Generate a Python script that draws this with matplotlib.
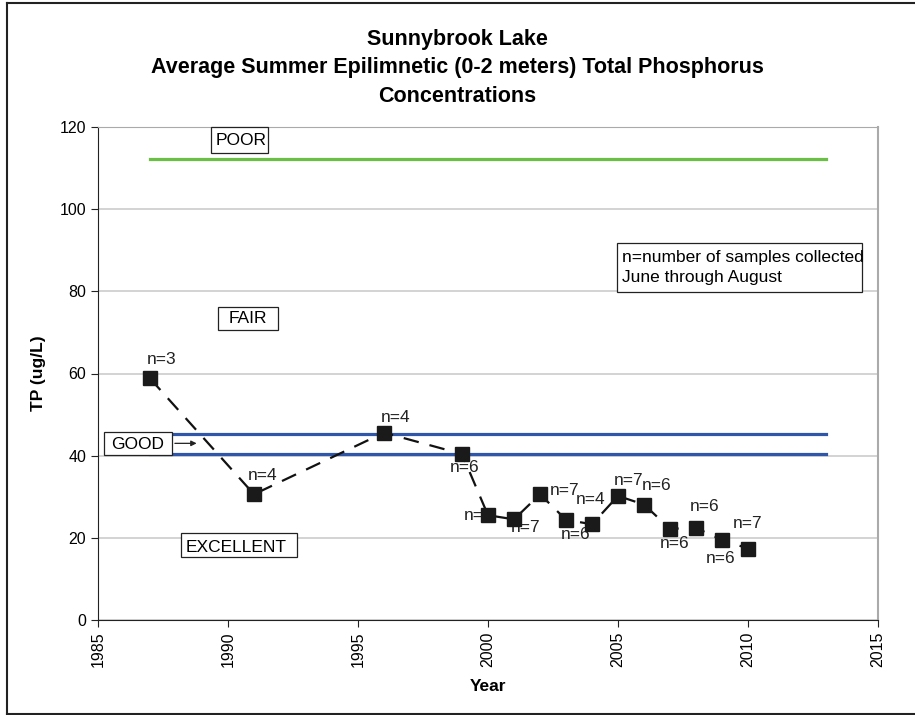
import matplotlib.pyplot as plt
from matplotlib.lines import Line2D
from matplotlib.patches import Rectangle

plt.rcParams['font.family'] = ['Liberation Sans', 'DejaVu Sans']

# data
years = [1987, 1991, 1996, 1999, 2000, 2001, 2002, 2003, 2004, 2005, 2006, 2007, 2008, 2009, 2010]
tp = [58.8, 30.6, 45.6, 40.4, 25.5, 24.5, 30.6, 24.4, 23.3, 30.2, 28.1, 22.2, 22.4, 19.5, 17.4]
n_samples = [3, 4, 4, 6, 6, 7, 7, 6, 4, 7, 6, 6, 6, 6, 7]

# trophic thresholds (ug/L)
poor_line = 112.3
good_upper = 45.2
good_lower = 40.3
line_start, line_end = 1987, 2013

# label offsets in pixels (dx, dy), dy up
label_offsets = [(12, 19), (9, 19), (12, 15), (3, -13), (-9, 0), (12, -8), (25, 4), (10, -15),
                 (-1, 25), (11, 15), (13, 19), (5, -15), (9, 21), (-1, -19), (0, 25)]

fig = plt.figure(figsize=(9.15, 7.15), dpi=100)
ax = fig.add_axes([98 / 915, 1 - 620 / 715, 780 / 915, 493 / 715])

# outer frame of the chart
frame = dict(color='#222222', lw=1.5, transform=fig.transFigure)
fig.add_artist(Line2D([7 / 915, 7 / 915], [1 - 714 / 715, 1 - 3 / 715], **frame))
fig.add_artist(Line2D([7 / 915, 1], [1 - 3 / 715, 1 - 3 / 715], **frame))
fig.add_artist(Line2D([7 / 915, 1], [1 - 714 / 715, 1 - 714 / 715], **frame))

ax.plot([line_start, line_end], [poor_line, poor_line], color='#6abf45', lw=2.3, zorder=2)
ax.plot([line_start, line_end], [good_upper, good_upper], color='#2f56a8', lw=2.3, zorder=2)
ax.plot([line_start, line_end], [good_lower, good_lower], color='#2f56a8', lw=2.3, zorder=2)

ax.plot(years, tp, color='#111111', lw=1.6, ls=(0, (7, 5)), marker='s', markersize=9.5,
        markerfacecolor='#1a1a1a', markeredgecolor='#1a1a1a', zorder=4)

for x, y, n, (dx, dy) in zip(years, tp, n_samples, label_offsets):
    ax.annotate(f'n={n}', (x, y), xytext=(dx, dy), textcoords='offset pixels',
                ha='center', va='center', fontsize=12.5, color='#222222', zorder=3)


def label_box(x0, x1, y0, y1):
    ax.add_patch(Rectangle((x0, y0), x1 - x0, y1 - y0, fc='white', ec='#222222', lw=0.9,
                           zorder=5, clip_on=False))


label_box(1989.35, 1991.54, 113.7, 120.0)
ax.text(1989.54, 116.7, 'POOR', ha='left', va='center', fontsize=12.5, zorder=6)
label_box(1989.62, 1991.92, 70.6, 76.2)
ax.text(1990.77, 73.3, 'FAIR', ha='center', va='center', fontsize=12.5, zorder=6)
label_box(1985.23, 1987.85, 40.2, 45.8)
ax.text(1986.54, 42.7, 'GOOD', ha='center', va='center', fontsize=12.5, zorder=6)
label_box(1988.19, 1992.65, 15.3, 21.2)
ax.text(1988.38, 17.6, 'EXCELLENT', ha='left', va='center', fontsize=12.5, zorder=6)
ax.annotate('', xy=(1988.9, 43.0), xytext=(1987.85, 43.0),
            arrowprops=dict(arrowstyle='-|>', color='#222222', lw=0.9, mutation_scale=8), zorder=6)
label_box(2004.96, 2014.38, 79.8, 91.8)
ax.text(2005.15, 85.8, 'n=number of samples collected\nJune through August', ha='left', va='center',
        fontsize=12.5, linespacing=1.35, zorder=6)

ax.set_xlim(1985, 2015)
ax.set_ylim(0, 120)
ax.set_xticks(range(1985, 2016, 5))
ax.set_yticks(range(0, 121, 20))
ax.tick_params(axis='x', labelrotation=90, labelsize=11.5, direction='out', length=5, color='#222222')
ax.tick_params(axis='y', labelsize=11.5, direction='out', length=5, color='#222222')
ax.grid(axis='y', color='#cccccc', lw=1.2, zorder=0)
ax.set_axisbelow(True)
ax.spines['left'].set_color('#222222')
ax.spines['bottom'].set_color('#222222')
ax.spines['top'].set_color('#aaaaaa')
ax.spines['right'].set_color('#aaaaaa')
ax.spines['right'].set_linewidth(1.5)

ax.set_xlabel('Year', fontsize=12.5, fontweight='bold', labelpad=8)
ax.set_ylabel('TP (ug/L)', fontsize=12.5, fontweight='bold', labelpad=10)
title_lines = ['Sunnybrook Lake', 'Average Summer Epilimnetic (0-2 meters) Total Phosphorus', 'Concentrations']
for i, line in enumerate(title_lines):
    fig.text(0.5, 1 - (40 + 28 * i) / 715, line, ha='center', va='center', fontsize=15.5, fontweight='bold')

fig.savefig('out.png', dpi=100)
